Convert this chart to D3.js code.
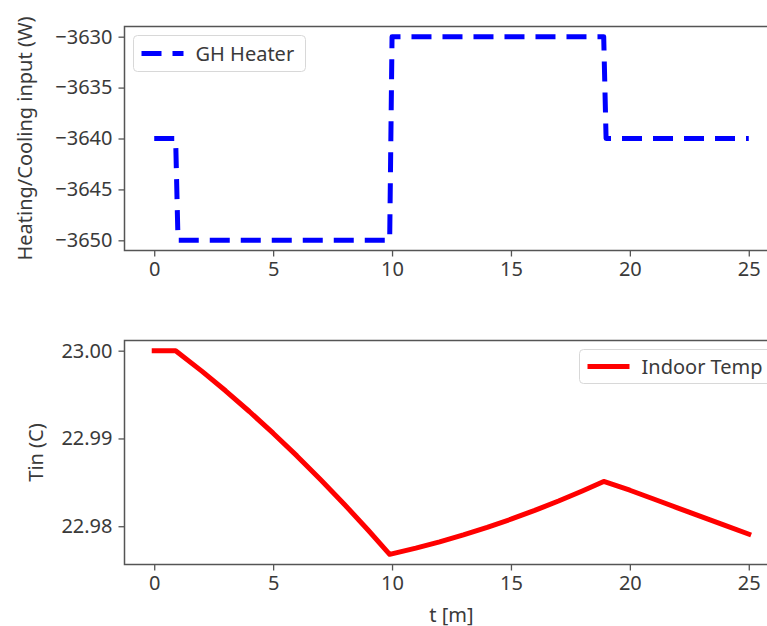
<!DOCTYPE html>
<html>
<head>
<meta charset="utf-8">
<script src="https://cdn.jsdelivr.net/npm/d3@7"></script>
<style>
  html, body { margin: 0; padding: 0; background: #fff; overflow: hidden; }
  svg { display: block; font-family: "Noto Sans", "Open Sans", sans-serif; }
</style>
</head>
<body>
<svg id="chart" width="767" height="626"></svg>
<script>
// ---- data ----
const heaterTime  = [0, 0.9, 1.0, 9.9, 10.0, 18.9, 19.0, 25];
const heaterPower = [-3640, -3640, -3650, -3650, -3630, -3630, -3640, -3640];

const tempTime  = [0, 0.9, 2, 3, 4, 5, 6, 7, 8, 9, 9.9, 11, 12, 13, 14, 15, 16, 17, 18, 18.9, 20, 21, 22, 23, 24, 25];
const tempValue = [23.0, 23.0, 22.99767, 22.99543, 22.99307, 22.9906, 22.98801, 22.9853, 22.98248, 22.97954, 22.9768,
                   22.97751, 22.97822, 22.97901, 22.97987, 22.9808, 22.9818, 22.98287, 22.98401, 22.9851,
                   22.9841, 22.9831, 22.9821, 22.9811, 22.9801, 22.9791];

const xTicks = [0, 5, 10, 15, 20, 25];
const topYTicks = [-3650, -3645, -3640, -3635, -3630];
const botYTicks = [22.98, 22.99, 23.00];

const labels = {
  topY: "Heating/Cooling input (W)",
  botY: "Tin (C)",
  x: "t [m]",
  heater: "GH Heater",
  temp: "Indoor Temp"
};

// ---- layout ----
const svg = d3.select("#chart");
const FS = 20;
const FONT = "Noto Sans";
const textColor = "#3a3a3a";
const spineColor = "#555";
const left = 124.5, right = 778.5;

function pad(ext) { const m = (ext[1] - ext[0]) * 0.05; return [ext[0] - m, ext[1] + m]; }

const x = d3.scaleLinear().domain(pad(d3.extent(tempTime))).range([left, right]);

const panels = [
  { top: 26.5, bottom: 250.5, times: heaterTime, values: heaterPower, ticks: topYTicks,
    fmt: d3.format("d"), color: "#0000ff", dash: "20,11", ylab: labels.topY, ylabX: 24,
    legend: { text: labels.heater, x0: 133.5, y0: 35.5, w: 172, h: 36 } },
  { top: 340.5, bottom: 564.5, times: tempTime, values: tempValue, ticks: botYTicks,
    fmt: d3.format(".2f"), color: "#ff0000", dash: null, ylab: labels.botY, ylabX: 35,
    legend: { text: labels.temp, x0: 579.5, y0: 349.5, w: 200, h: 34 } }
];

panels.forEach((p) => {
  const y = d3.scaleLinear().domain(pad(d3.extent(p.values))).range([p.bottom, p.top]);
  const g = svg.append("g");

  // frame
  g.append("rect")
    .attr("x", left).attr("y", p.top)
    .attr("width", right - left).attr("height", p.bottom - p.top)
    .attr("fill", "none").attr("stroke", spineColor).attr("stroke-width", 1.5);

  // x axis
  const xa = g.append("g").attr("transform", `translate(0,${p.bottom})`)
    .call(d3.axisBottom(x).tickValues(xTicks).tickFormat(d3.format("d")).tickSize(6).tickPadding(5));
  xa.select(".domain").remove();
  xa.selectAll("line").attr("stroke", spineColor).attr("stroke-width", 1.3);
  xa.selectAll("text").attr("fill", textColor).style("font-size", FS + "px").style("font-family", FONT);

  // y axis
  const ya = g.append("g").attr("transform", `translate(${left},0)`)
    .call(d3.axisLeft(y).tickValues(p.ticks).tickFormat(p.fmt).tickSize(6).tickPadding(6));
  ya.select(".domain").remove();
  ya.selectAll("line").attr("stroke", spineColor).attr("stroke-width", 1.3);
  ya.selectAll("text").attr("fill", textColor).style("font-size", FS + "px").style("font-family", FONT);

  // y label
  const cy = (p.top + p.bottom) / 2;
  g.append("text")
    .attr("transform", `translate(${p.ylabX},${cy}) rotate(-90)`)
    .attr("text-anchor", "middle").attr("dominant-baseline", "central")
    .attr("fill", textColor).style("font-size", FS + "px").style("font-family", FONT)
    .text(p.ylab);

  // line
  const pts = p.times.map((t, k) => [t, p.values[k]]);
  const line = d3.line().x(d => x(d[0])).y(d => y(d[1]));
  const path = g.append("path").datum(pts)
    .attr("d", line)
    .attr("fill", "none").attr("stroke", p.color).attr("stroke-width", 5)
    .attr("stroke-linejoin", "round");
  if (p.dash) path.attr("stroke-dasharray", p.dash).attr("stroke-linecap", "butt");
  else path.attr("stroke-linecap", "square");

  // legend
  const L = p.legend;
  g.append("rect")
    .attr("x", L.x0).attr("y", L.y0).attr("width", L.w).attr("height", L.h)
    .attr("rx", 4).attr("fill", "#fff").attr("fill-opacity", 0.8)
    .attr("stroke", "#d8d8d8").attr("stroke-width", 1);
  const ly = L.y0 + L.h / 2;
  const lsx = L.x0 + 8;
  const seg = g.append("line")
    .attr("x1", lsx).attr("x2", lsx + 42)
    .attr("y1", ly).attr("y2", ly)
    .attr("stroke", p.color).attr("stroke-width", 5);
  if (p.dash) seg.attr("stroke-dasharray", p.dash);
  g.append("text")
    .attr("x", lsx + 54).attr("y", ly)
    .attr("dominant-baseline", "central")
    .attr("fill", textColor).style("font-size", FS + "px").style("font-family", FONT)
    .text(L.text);
});

// x label (bottom)
svg.append("text")
  .attr("x", (left + right) / 2).attr("y", 614)
  .attr("text-anchor", "middle").attr("dominant-baseline", "central")
  .attr("fill", textColor).style("font-size", FS + "px").style("font-family", FONT)
  .text(labels.x);
</script>
</body>
</html>
